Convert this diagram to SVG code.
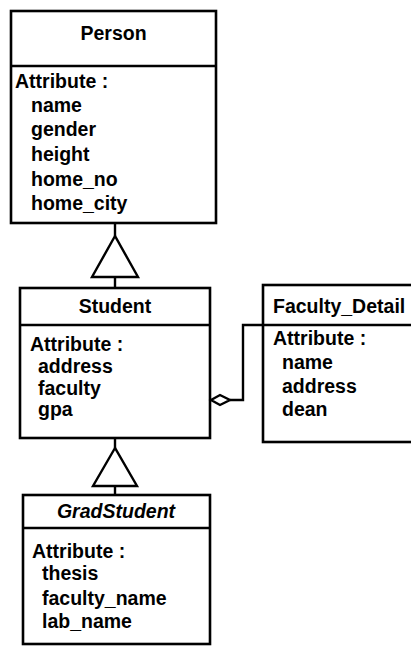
<svg xmlns="http://www.w3.org/2000/svg" width="411" height="647" viewBox="0 0 411 647">
  <style>
    .box { fill: #ffffff; stroke: #000000; stroke-width: 2.6; }
    .div { stroke: #000000; stroke-width: 2.6; fill: none; }
    .edge { stroke: #000000; stroke-width: 2.4; fill: none; }
    .head { fill: #ffffff; stroke: #000000; stroke-width: 2.4; }
    text { font-family: "Liberation Sans", Arial, sans-serif; font-weight: bold; font-size: 19.5px; fill: #000000; }
    .title { text-anchor: middle; }
  </style>
  <rect width="411" height="647" fill="#ffffff"/>

  <!-- class: Person -->
  <g id="person">
    <rect class="box" x="11" y="11" width="205" height="212"/>
    <line class="div" x1="11" y1="66" x2="216" y2="66"/>
    <text class="title" x="113.5" y="40">Person</text>
    <text x="15" y="88">Attribute :</text>
    <text x="31" y="112">name</text>
    <text x="31" y="136">gender</text>
    <text x="31" y="161">height</text>
    <text x="31" y="186">home_no</text>
    <text x="31" y="210">home_city</text>
  </g>

  <!-- class: Student -->
  <g id="student">
    <rect class="box" x="20" y="288" width="190" height="150"/>
    <line class="div" x1="20" y1="325" x2="210" y2="325"/>
    <text class="title" x="115" y="313">Student</text>
    <text x="30" y="351">Attribute :</text>
    <text x="38" y="373">address</text>
    <text x="38" y="395">faculty</text>
    <text x="38" y="416">gpa</text>
  </g>

  <!-- class: Faculty_Detail (runs past the right edge) -->
  <g id="faculty-detail">
    <rect class="box" x="263" y="285" width="160" height="157"/>
    <line class="div" x1="263" y1="325" x2="411" y2="325"/>
    <text x="273" y="313">Faculty_Detail</text>
    <text x="273" y="345">Attribute :</text>
    <text x="282" y="369">name</text>
    <text x="282" y="393">address</text>
    <text x="282" y="416">dean</text>
  </g>

  <!-- class: GradStudent -->
  <g id="grad-student">
    <rect class="box" x="23" y="495" width="187" height="149"/>
    <line class="div" x1="23" y1="528" x2="210" y2="528"/>
    <text class="title" x="116" y="518" font-style="italic">GradStudent</text>
    <text x="32" y="558">Attribute :</text>
    <text x="42" y="580">thesis</text>
    <text x="42" y="605">faculty_name</text>
    <text x="42" y="628">lab_name</text>
  </g>

  <!-- connectors -->
  <g id="connectors">
    <!-- Student generalises to Person -->
    <line class="edge" x1="115" y1="223" x2="115" y2="236"/>
    <polygon class="head" points="115,236 92,277 138,277"/>
    <line class="edge" x1="115" y1="277" x2="115" y2="288"/>
    <!-- GradStudent generalises to Student -->
    <line class="edge" x1="115" y1="438" x2="115" y2="448"/>
    <polygon class="head" points="115,448 93,486 137,486"/>
    <line class="edge" x1="115" y1="486" x2="115" y2="495"/>
    <!-- aggregation: Student holds Faculty_Detail -->
    <polygon class="head" points="211,400 220,395 230,400 220,405"/>
    <polyline class="edge" points="230,400 243,400 243,325 263,325"/>
  </g>
</svg>
